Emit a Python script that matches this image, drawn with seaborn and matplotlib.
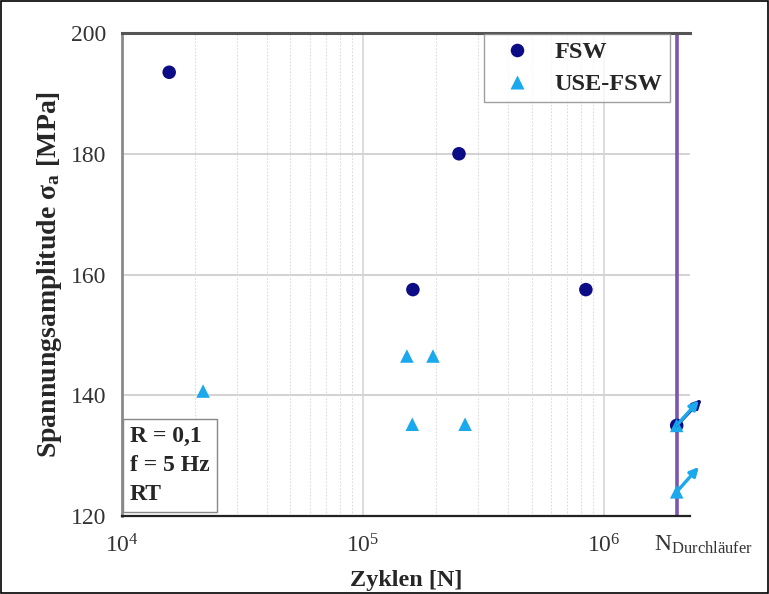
import numpy as np
import pandas as pd
import seaborn as sns
import matplotlib.pyplot as plt
from matplotlib.patches import Rectangle
from matplotlib.ticker import FixedLocator, NullFormatter
from matplotlib.transforms import offset_copy, ScaledTranslation

# Wöhler data
N_RUNOUT = 2.0e6

fsw_cycles = [1.57e4, 2.5e5, 1.61e5, 8.4e5, N_RUNOUT]
fsw_stress = [193.5, 180.0, 157.5, 157.5, 135.0]
fsw_runout = [False, False, False, False, True]

use_cycles = [2.17e4, 1.52e5, 1.95e5, 1.60e5, 2.65e5, N_RUNOUT, N_RUNOUT]
use_stress = [140.7, 146.5, 146.5, 135.2, 135.2, 135.0, 124.0]
use_runout = [False, False, False, False, False, True, True]

groups = ["FSW", "USE-FSW"]
colors = {"FSW": "#0b0c86", "USE-FSW": "#19a9ec"}
markers = {"FSW": "o", "USE-FSW": "^"}

x_ticks = [1e4, 1e5, 1e6, N_RUNOUT]
x_labels = [r"$\mathregular{10^{4}}$", r"$\mathregular{10^{5}}$",
            r"$\mathregular{10^{6}}$", r"N$_\mathregular{Durchläufer}$"]
y_ticks = [120, 140, 160, 180, 200]

df = pd.DataFrame({
    "Zyklen": fsw_cycles + use_cycles,
    "Spannung": fsw_stress + use_stress,
    "Gruppe": ["FSW"] * len(fsw_cycles) + ["USE-FSW"] * len(use_cycles),
    "Durchlaeufer": fsw_runout + use_runout,
})

sns.set_style("white")
plt.rcParams["font.family"] = ["Liberation Serif", "DejaVu Serif"]
plt.rcParams["mathtext.fontset"] = "stix"

fig = plt.figure(figsize=(7.69, 5.94), dpi=100)
ax = fig.add_axes([0.1586, 0.1313, 0.7386, 0.8131])

ax.set_xscale("log")
ax.set_xlim(1e4, 2.27e6)
ax.set_ylim(120, 200)

# ticks + grid
ax.set_yticks(y_ticks)
ax.yaxis.set_minor_locator(FixedLocator([130, 150, 170, 190]))
ax.xaxis.set_major_locator(FixedLocator(x_ticks))
ax.set_xticklabels(x_labels)
minor_x = [m * 10 ** e for e in (4, 5) for m in range(2, 10)]
ax.xaxis.set_minor_locator(FixedLocator(minor_x))
ax.xaxis.set_minor_formatter(NullFormatter())

for yv in y_ticks[1:-1]:
    ax.axhline(yv, color="#d2d2d2", lw=1.4, zorder=0)
for xv in minor_x:
    ax.axvline(xv, color="#dcdcdc", lw=0.8, ls=(0, (1.5, 1.5)), zorder=0)
for xv in (1e5, 1e6):
    ax.axvline(xv, color="#d6d6d6", lw=1.2, zorder=0)

ax.axvline(N_RUNOUT, color="#7c55b0", lw=2.6, zorder=1)

sns.scatterplot(data=df, x="Zyklen", y="Spannung", hue="Gruppe", style="Gruppe",
                hue_order=groups, style_order=groups, palette=colors,
                markers=markers, s=95, edgecolor="none", ax=ax, zorder=3)

# arrows for run-outs
arrow_len = {"FSW": (18, 19), "USE-FSW": (16, 18)}
for g in groups:
    sub = df[(df["Gruppe"] == g) & df["Durchlaeufer"]]
    dx, dy = arrow_len[g]
    tip = offset_copy(ax.transData, fig=fig, x=dx, y=dy, units="points")
    for xv, yv in zip(sub["Zyklen"], sub["Spannung"]):
        ax.annotate("", xy=(xv, yv), xycoords=tip,
                    xytext=(xv, yv), textcoords="data",
                    arrowprops=dict(arrowstyle="-|>", color=colors[g], lw=2.4,
                                    mutation_scale=13, shrinkA=0, shrinkB=0),
                    annotation_clip=False, zorder=4)

handles, labels = ax.get_legend_handles_labels()
ax.legend(handles, labels, loc="upper right", bbox_to_anchor=(0.965, 0.998),
          frameon=True, fancybox=False, edgecolor="#888888",
          prop={"family": "Liberation Serif", "weight": "bold", "size": 17.5},
          handletextpad=0.5, borderpad=0.3, labelspacing=0.4, borderaxespad=0,
          handlelength=2.1, markerscale=1.0)

ax.text(0.014, 0.022, "R = 0,1\nf = 5 Hz\nRT", transform=ax.transAxes,
        ha="left", va="bottom", fontsize=17, fontweight="bold", linespacing=1.5,
        bbox=dict(boxstyle="square,pad=0.3", fc="white", ec="#888888", lw=1.0))

ax.set_xlabel("Zyklen [N]", fontsize=17.5, fontweight="bold", labelpad=9)
ax.set_ylabel("Spannungsamplitude σ$_\\mathregular{a}$ [MPa]", fontsize=20,
              fontweight="bold", labelpad=5)

ax.tick_params(axis="both", which="major", direction="out", length=7, width=1.3,
               labelsize=17, colors="#333333")
ax.tick_params(axis="both", which="minor", direction="out", length=3, width=1.0,
               colors="#333333")
ax.tick_params(axis="x", pad=6)
ax.tick_params(axis="y", pad=4)

# N_Durchläufer label starts just left of its tick
nlab = ax.get_xticklabels()[3]
nlab.set_ha("left")
nlab.set_transform(nlab.get_transform() + ScaledTranslation(-0.23, 0, fig.dpi_scale_trans))

ax.spines["right"].set_visible(False)
ax.spines["top"].set_color("#555555")
ax.spines["top"].set_linewidth(2.2)
ax.spines["left"].set_color("#8a8a8a")
ax.spines["left"].set_linewidth(2.0)
ax.spines["bottom"].set_color("#222222")
ax.spines["bottom"].set_linewidth(1.6)

fig.patches.append(Rectangle((0.001, 0.001), 0.998, 0.997, transform=fig.transFigure,
                             fill=False, ec="black", lw=1.2))

fig.savefig("out.png", dpi=100)
